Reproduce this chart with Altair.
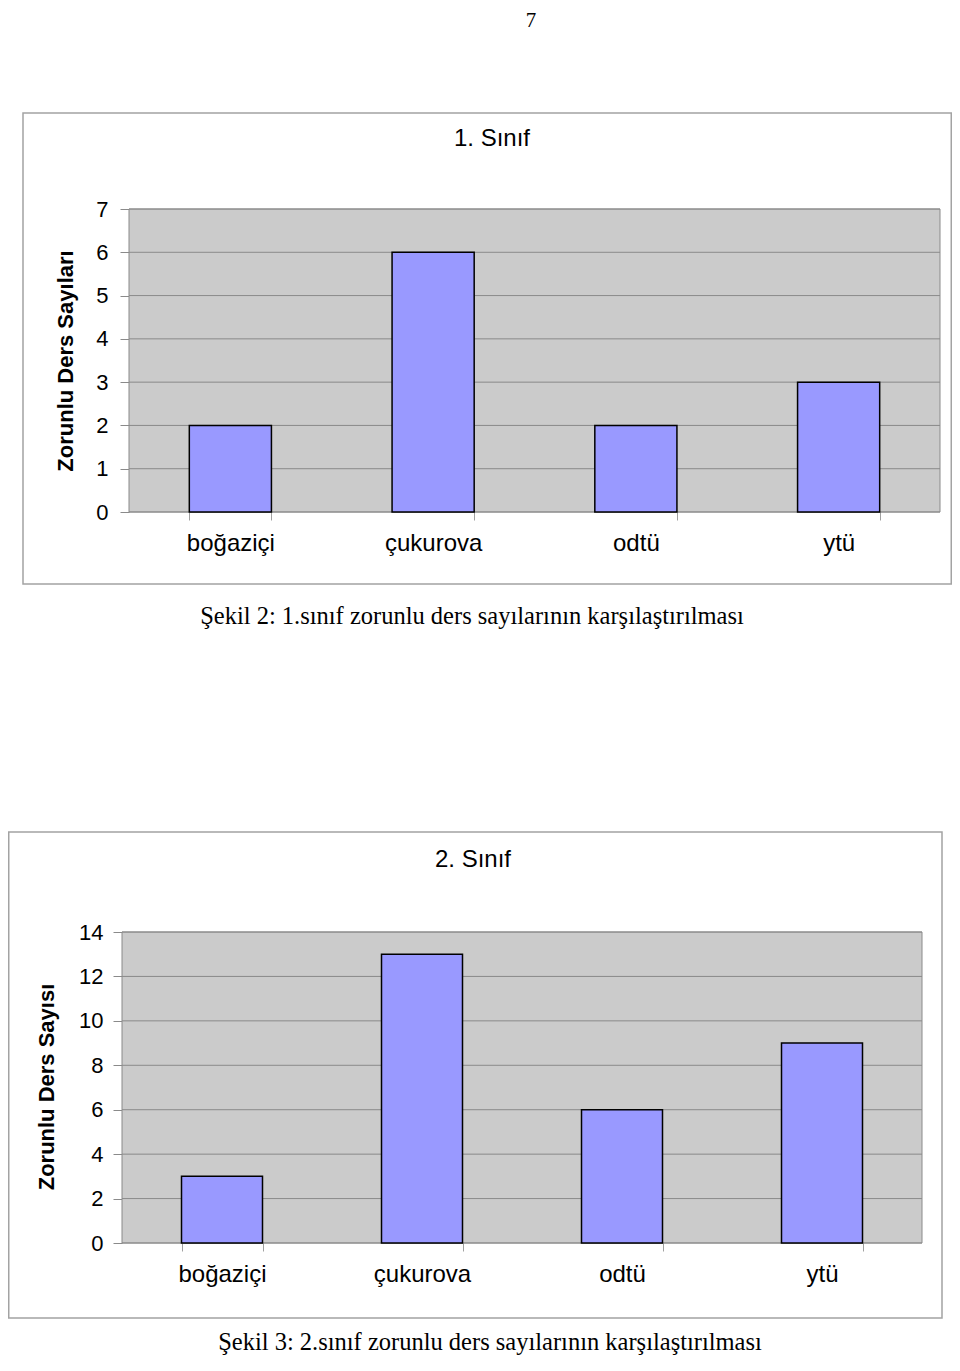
import altair as alt
import pandas as pd

# ---- data ----
schools = ["boğaziçi", "çukurova", "odtü", "ytü"]
sinif1 = [2, 6, 2, 3]
sinif2 = [3, 13, 6, 9]
ticks1 = [0, 1, 2, 3, 4, 5, 6, 7]
ticks2 = [0, 2, 4, 6, 8, 10, 12, 14]
title1 = "1. Sınıf"
title2 = "2. Sınıf"
ytitle1 = "Zorunlu Ders Sayıları"
ytitle2 = "Zorunlu Ders Sayısı"
caption1 = "Şekil 2: 1.sınıf zorunlu ders sayılarının karşılaştırılması"
caption2 = "Şekil 3: 2.sınıf zorunlu ders sayılarının karşılaştırılması"
page_no = "7"

SANS = "Liberation Sans"
SERIF = "Liberation Serif"
FRAME = "#a3a3a3"
PLOT_BG = "#cbcbcb"
GRID = "#8a8a8a"


def one(text=""):
    return pd.DataFrame({"t": [text]})


def box(x1, x2, y1, y2, **kw):
    return alt.Chart(one()).mark_rect(**kw).encode(
        x=alt.value(x1), x2=alt.value(x2), y=alt.value(y1), y2=alt.value(y2)
    )


def label(text, x, y, **kw):
    return alt.Chart(one(text)).mark_text(color="black", **kw).encode(
        text="t:N", x=alt.value(x), y=alt.value(y)
    )


def panel(values, ticks, ymax, w, h, ypad, geo, extras, shift=0):
    df = pd.DataFrame({"okul": schools, "sayi": values})
    x = alt.X(
        "okul:N", sort=schools, title=None,
        scale=alt.Scale(range=[-shift, w - shift], paddingInner=0.595, paddingOuter=0.2975),
        axis=alt.Axis(labelAngle=0, labelFont=SANS, labelFontSize=24, labelColor="black",
                      tickBand="extent", tickSize=8, tickColor="#a0a0a0", labelPadding=11,
                      domain=False, grid=False),
    )
    y_scale = alt.Scale(domain=[0, ymax], nice=False)
    y = alt.Y(
        "sayi:Q", title=None, scale=y_scale,
        axis=alt.Axis(values=ticks, format="d", labelFont=SANS, labelFontSize=22,
                      labelColor="black", tickSize=9, tickColor=GRID,
                      labelPadding=ypad, domain=False, grid=False, offset=shift),
    )
    # plot background and horizontal grid lines (grid lines follow the y scale)
    bg = box(-shift, w - shift, 0, h, fill=PLOT_BG, stroke=GRID, strokeWidth=1)
    grid = alt.Chart(pd.DataFrame({"v": ticks})).mark_rule(color=GRID, strokeWidth=1).encode(
        y=alt.Y("v:Q", scale=y_scale), x=alt.value(-shift), x2=alt.value(w - shift)
    )
    bars = alt.Chart(df).mark_bar(color="#9999ff", stroke="black", strokeWidth=1.5).encode(x=x, y=y)
    page = box(0, 10, geo["page"][0], geo["page"][1], fill="white", opacity=0)
    frame = box(*geo["frame"], fillOpacity=0, stroke=FRAME, strokeWidth=1.5)
    layers = [page, frame, bg, grid, bars] + extras
    return alt.layer(*layers).properties(
        width=w, height=h, view=alt.ViewBackground(fillOpacity=0, strokeOpacity=0)
    )


# panel 1: plot area 811 x 303, group origin at page (129, 209)
p1 = panel(
    sinif1, ticks1, 7, 811, 303, 12,
    {"page": (-201, 511), "frame": (-106, 822.25, -96, 375)},
    [
        label(page_no, 402, -182, font=SERIF, fontSize=21, baseline="alphabetic", align="center"),
        label(title1, 363, -70, font=SANS, fontSize=24, baseline="middle", align="center"),
        label(ytitle1, -63, 152, font=SANS, fontSize=22, fontWeight="bold",
              baseline="middle", align="center", angle=270),
        label(caption1, 343, 415, font=SERIF, fontSize=24.5, baseline="alphabetic", align="center"),
    ],
)

# panel 2: plot area 800 x 311, group origin at page (129, 932), plot drawn 7px further left
p2 = panel(
    sinif2, ticks2, 14, 800, 311, 10,
    {"page": (-212, 420), "frame": (-120.25, 813, -100, 386)},
    [
        label(title2, 344, -72, font=SANS, fontSize=24, baseline="middle", align="center"),
        label(ytitle2, -82, 155, font=SANS, fontSize=22, fontWeight="bold",
              baseline="middle", align="center", angle=270),
        label(caption2, 361, 418, font=SERIF, fontSize=24.5, baseline="alphabetic", align="center"),
    ],
    shift=7,
)

chart = (
    alt.concat(p1, p2, columns=1, align="none", spacing=0)
    .properties(
        autosize=alt.AutoSizeParams(type="none"),
        padding={"left": 121, "top": 201, "right": 823, "bottom": 1148},
    )
    .configure_view(strokeWidth=0)
)

chart.save("out.html", embed_options={"renderer": "svg", "actions": False})
